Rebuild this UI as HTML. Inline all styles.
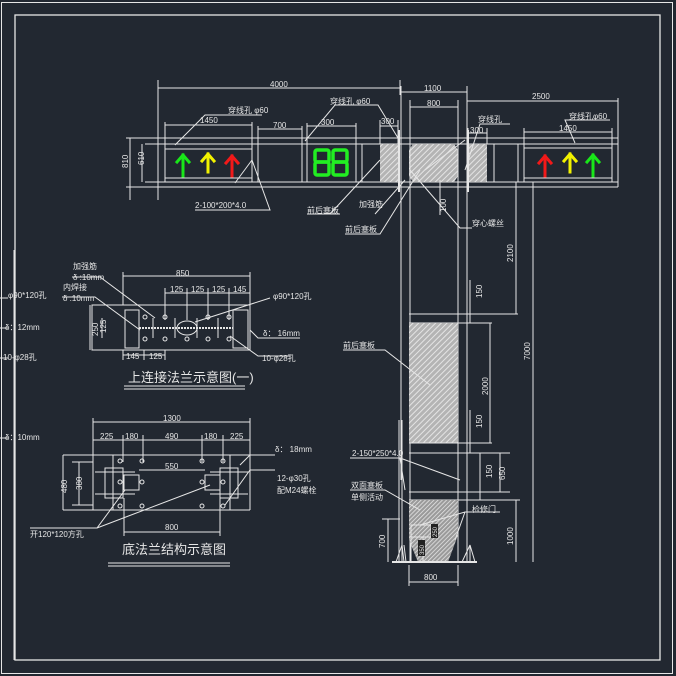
<!DOCTYPE html>
<html><head><meta charset="utf-8"><style>
html,body{margin:0;padding:0;background:#222831;}
svg{display:block}
text{font-family:"Liberation Sans","Noto Sans CJK SC",sans-serif;fill:#e6e6e6;font-size:8px}
</style></head><body>
<svg width="676" height="676" viewBox="0 0 676 676" xmlns="http://www.w3.org/2000/svg">
<defs>
<pattern id="h1" width="4" height="4" patternUnits="userSpaceOnUse" patternTransform="rotate(45)">
<rect width="4" height="4" fill="#b4b4b4"/><line x1="0" y1="0" x2="0" y2="4" stroke="#e4e4e4" stroke-width="2"/></pattern>
<pattern id="h2" width="3" height="3" patternUnits="userSpaceOnUse" patternTransform="rotate(45)">
<rect width="3" height="3" fill="#9a9a9a"/><line x1="0" y1="0" x2="0" y2="3" stroke="#e8e8e8" stroke-width="1.5"/></pattern>
</defs>
<g fill="none" stroke="#e6e6e6" stroke-width="1">
<rect x="1.5" y="2.5" width="671" height="671"/>
<rect x="15" y="15" width="645" height="645" stroke-width="1.3"/>
<line x1="14" y1="250" x2="14" y2="660"/>

<line x1="130" y1="138" x2="618" y2="138"/>
<line x1="145" y1="144" x2="618" y2="144"/>
<line x1="145" y1="182" x2="618" y2="182"/>
<line x1="130" y1="187" x2="618" y2="187"/>
<line x1="158" y1="120" x2="158" y2="200"/>
<line x1="618" y1="98" x2="618" y2="187"/>
<rect x="165" y="149" width="87" height="29"/>
<line x1="165" y1="122" x2="165" y2="182"/><line x1="252" y1="122" x2="252" y2="182"/>
<rect x="258" y="144" width="44" height="38"/>
<line x1="258" y1="126" x2="258" y2="144"/><line x1="302" y1="126" x2="302" y2="144"/>
<rect x="307" y="144" width="49" height="38"/><line x1="362" y1="144" x2="362" y2="182"/>
<line x1="307" y1="123" x2="307" y2="144"/><line x1="356" y1="123" x2="356" y2="144"/>
<rect x="524" y="148" width="88" height="30"/>
<line x1="494" y1="144" x2="494" y2="182"/><line x1="518" y1="144" x2="518" y2="182"/>
<line x1="524" y1="128" x2="524" y2="182"/><line x1="612" y1="128" x2="612" y2="182"/>
<rect x="380" y="144" width="18" height="38" fill="url(#h1)" stroke="none"/>
<polygon points="413,144 454,144 458,150 458,176 454,182 413,182 409,176 409,150" fill="url(#h1)" stroke="none"/>
<rect x="468" y="144" width="19" height="38" fill="url(#h1)" stroke="none"/>
<line x1="380" y1="120" x2="380" y2="144"/><line x1="398" y1="120" x2="398" y2="144"/>
<line x1="468" y1="128" x2="468" y2="144"/><line x1="487" y1="128" x2="487" y2="144"/>

<line x1="401" y1="86" x2="401" y2="480"/>
<line x1="399" y1="130" x2="399" y2="192" stroke-width="2"/>
<line x1="410" y1="100" x2="410" y2="562"/>
<line x1="458" y1="100" x2="458" y2="562"/>
<line x1="467" y1="86" x2="467" y2="480"/>
<line x1="468" y1="130" x2="468" y2="192" stroke-width="2"/>
<line x1="399" y1="420" x2="399" y2="562"/><line x1="402" y1="420" x2="402" y2="562"/>
<line x1="467" y1="420" x2="467" y2="562"/>
<line x1="409" y1="314" x2="518" y2="314"/>
<line x1="409" y1="323" x2="492" y2="323"/>
<rect x="409" y="323" width="49" height="120" fill="url(#h1)" stroke="none"/>
<line x1="409" y1="443" x2="492" y2="443"/>
<line x1="409" y1="453" x2="510" y2="453"/>
<line x1="409" y1="492" x2="510" y2="492"/>
<line x1="409" y1="500" x2="520" y2="500"/>
<polygon points="409,500 458,500 458,535 448,562 418,562 409,540" fill="url(#h2)" stroke="none"/>
<rect x="411" y="525" width="20" height="12"/><rect x="411" y="537" width="12" height="25"/>
<line x1="392" y1="562" x2="477" y2="562" stroke-width="2"/>
<path d="M396 562 L402 545 L404 562 M406 562 L404 545 M462 562 L470 545 L470 562 M475 562 L470 545"/>
<path d="M158 88 L400 88 M401 92 L467 92 M410 107 L458 107 M467 101 L618 101 M165 125 L252 125 M258 129 L302 129 M307 126 L356 126 M380 126 L398 126 M468 133 L487 133 M524 132 L612 132"/>
<path d="M158 80 L158 120 M400 80 L400 95"/>
<path d="M130 138 L130 200 M142 144 L142 182 M126 138 L160 138 M126 187 L160 187"/>
<path d="M516 182 L516 314 M533 182 L533 562 M490 323 L490 443 M480 453 L480 492 M500 453 L500 492 M516 500 L516 562 M388 519 L388 562 M382 519 L400 519 M409 582 L458 582 M409 565 L409 586 M458 565 L458 586 M440 180 L440 215 M470 280 L470 323 M470 410 L470 453 M480 470 L480 500"/>
<path d="M175 145 L205 115 L262 115 M235 183 L252 160 L270 210 L195 210 M305 141 L335 105 L378 105 L398 138 M330 214 L380 160 M340 214 L307 214 M375 214 L405 180 M345 234 L380 234 L420 170 M472 228 L460 228 L410 170 M465 170 L480 124 L510 124 M575 143 L565 120 L610 120 M425 170 L465 140"/>
<path d="M343 350 L385 350 L430 385 M350 458 L400 458 L405 490 M400 458 L460 480 M350 490 L385 490 L420 510 M500 512 L465 512 L420 525 M465 512 L455 540"/>
<rect x="92" y="305" width="158" height="45"/>
<rect x="125" y="310" width="14" height="38"/><rect x="233" y="310" width="15" height="38"/>
<line x1="139" y1="328" x2="233" y2="328" stroke-dasharray="2,1" stroke-width="2"/>
<ellipse cx="187" cy="328" rx="10" ry="7"/>
<path d="M153 318 L153 338 M175 318 L175 338 M197 318 L197 338 M218 318 L218 338"/>
<path d="M123 272 L123 305 M250 272 L250 305 M123 276 L250 276 M165 293 L250 293 M165 288 L165 320 M187 288 L187 320 M208 288 L208 320 M229 288 L229 320 M90 305 L90 350 M102 318 L102 338 M123 355 L165 355 M123 350 L123 360 M144 350 L144 360 M165 350 L165 360"/>
<path d="M72 277 L100 277 L155 318 M62 297 L95 297 L140 330 M270 298 L195 322 M300 338 L258 338 L250 330 M290 356 L258 356 L230 336"/>
<line x1="124" y1="386" x2="245" y2="386"/><line x1="124" y1="389" x2="245" y2="389"/>
<path d="M63 455 L250 455 M63 510 L250 510 M93 418 L93 510 M250 418 L250 510 M63 455 L63 510 M79 462 L79 505 M72 462 L93 462 M72 505 L93 505"/>
<rect x="105" y="468" width="18" height="30"/><rect x="220" y="468" width="18" height="30"/>
<rect x="124" y="475" width="15" height="15"/><rect x="205" y="475" width="15" height="15"/>
<path d="M95 472 L135 472 M95 494 L135 494 M210 472 L248 472 M210 494 L248 494 M113 455 L113 510 M230 455 L230 510"/>
<path d="M93 422 L250 422 M93 440 L250 440 M123 435 L123 462 M143 435 L143 462 M202 435 L202 462 M223 435 L223 462 M139 470 L205 470 M124 532 L220 532 M124 498 L124 536 M220 498 L220 536"/>
<path d="M30 528 L97 528 L125 490 M97 528 L210 485 M275 455 L250 455 L240 465 M275 470 L250 470 L225 505"/>
<line x1="108" y1="563" x2="230" y2="563"/><line x1="108" y1="566" x2="230" y2="566"/>
<path d="M0 298 L8 298 M0 328 L8 328 M0 358 L8 358 M0 438 L8 438"/>
</g>
<g fill="none" stroke="#e6e6e6">
<circle cx="145" cy="317" r="2"/><circle cx="165" cy="317" r="2"/><circle cx="208" cy="317" r="2"/><circle cx="229" cy="317" r="2"/>
<circle cx="145" cy="339" r="2"/><circle cx="165" cy="339" r="2"/><circle cx="187" cy="339" r="2"/><circle cx="208" cy="339" r="2"/><circle cx="229" cy="339" r="2"/>
<circle cx="120" cy="461" r="2"/><circle cx="142" cy="461" r="2"/><circle cx="202" cy="461" r="2"/><circle cx="223" cy="461" r="2"/>
<circle cx="142" cy="482" r="2"/><circle cx="202" cy="482" r="2"/><circle cx="120" cy="482" r="2"/><circle cx="223" cy="482" r="2"/>
<circle cx="120" cy="506" r="2"/><circle cx="142" cy="506" r="2"/><circle cx="202" cy="506" r="2"/><circle cx="223" cy="506" r="2"/>
</g>
<g stroke-width="3" fill="none" stroke-linecap="square">
<path d="M183 176 L183 155 M177 162 L183 155 L189 162" stroke="#19e619"/>
<path d="M208 172 L208 154 M202 161 L208 154 L214 161" stroke="#f2f200"/>
<path d="M232 176 L232 156 M226 163 L232 156 L238 163" stroke="#f21919"/>
<path d="M545 176 L545 156 M539 163 L545 156 L551 163" stroke="#f21919"/>
<path d="M570 172 L570 154 M564 161 L570 154 L576 161" stroke="#f2f200"/>
<path d="M593 176 L593 155 M587 162 L593 155 L599 162" stroke="#19e619"/>
</g>
<g fill="none" stroke="#22ee22" stroke-width="3.5">
<rect x="315" y="150" width="14" height="12" rx="2"/><rect x="315" y="162" width="14" height="13" rx="2"/>
<rect x="333" y="150" width="14" height="12" rx="2"/><rect x="333" y="162" width="14" height="13" rx="2"/>
</g>
<text x="270" y="87">4000</text><text x="424" y="91">1100</text><text x="427" y="106">800</text><text x="532" y="99">2500</text>
<text x="200" y="123">1450</text><text x="273" y="128">700</text><text x="321" y="125">300</text><text x="381" y="124">300</text><text x="470" y="133">300</text><text x="559" y="131">1450</text>
<text x="228" y="113">穿线孔 φ60</text><text x="330" y="104">穿线孔 φ60</text><text x="478" y="122">穿线孔</text><text x="569" y="119">穿线孔φ60</text>
<text x="195" y="208">2-100*200*4.0</text><text x="307" y="213">前后塞板</text><text x="359" y="207">加强筋</text><text x="345" y="232">前后塞板</text><text x="472" y="226">穿心螺丝</text>
<text transform="translate(128,168) rotate(-90)">810</text><text transform="translate(144,165) rotate(-90)">610</text>
<text transform="translate(446,212) rotate(-90)">100</text><text transform="translate(513,262) rotate(-90)">2100</text>
<text transform="translate(482,298) rotate(-90)">150</text><text transform="translate(530,360) rotate(-90)">7000</text>
<text transform="translate(488,395) rotate(-90)">2000</text><text transform="translate(482,428) rotate(-90)">150</text>
<text transform="translate(492,478) rotate(-90)">150</text><text transform="translate(505,480) rotate(-90)">650</text>
<text transform="translate(513,545) rotate(-90)">1000</text><text transform="translate(385,548) rotate(-90)">700</text>
<text x="424" y="580">800</text>
<text x="343" y="348">前后塞板</text><text x="352" y="456">2-150*250*4.0</text><text x="351" y="488">双面塞板</text><text x="351" y="500">单侧活动</text><text x="472" y="512">检修门</text>
<text x="73" y="269">加强筋</text><text x="73" y="280">δ :10mm</text><text x="63" y="290">内焊接</text><text x="63" y="301">δ :10mm</text>
<text x="176" y="276">850</text><text x="170" y="292">125</text><text x="191" y="292">125</text><text x="212" y="292">125</text><text x="233" y="292">145</text>
<text x="273" y="299">φ90*120孔</text><text x="263" y="336">δ： 16mm</text><text x="262" y="361">10-φ28孔</text>
<text x="126" y="359">145</text><text x="149" y="359">125</text>
<text transform="translate(98,336) rotate(-90)">250</text><text transform="translate(106,333) rotate(-90)">125</text>
<text x="128" y="382" style="font-size:13px">上连接法兰示意图(一)</text>
<text x="8" y="298">φ90*120孔</text><text x="5" y="330">δ：12mm</text><text x="3" y="360">10-φ28孔</text><text x="5" y="440">δ：10mm</text>
<text x="163" y="421">1300</text><text x="100" y="439">225</text><text x="125" y="439">180</text><text x="165" y="439">490</text><text x="204" y="439">180</text><text x="230" y="439">225</text>
<text x="165" y="469">550</text><text x="165" y="530">800</text>
<text transform="translate(67,493) rotate(-90)">480</text><text transform="translate(82,490) rotate(-90)">380</text>
<text x="275" y="452">δ： 18mm</text><text x="277" y="481">12-φ30孔</text><text x="277" y="493">配M24螺栓</text>
<text x="30" y="537">开120*120方孔</text>
<text x="122" y="554" style="font-size:13px">底法兰结构示意图</text>
<rect x="431" y="524" width="7" height="14" fill="#222"/><rect x="418" y="540" width="7" height="16" fill="#222"/>
<text transform="translate(437,537) rotate(-90)" style="font-size:6px">250</text><text transform="translate(424,555) rotate(-90)" style="font-size:6px">350</text>
</svg>
</body></html>
